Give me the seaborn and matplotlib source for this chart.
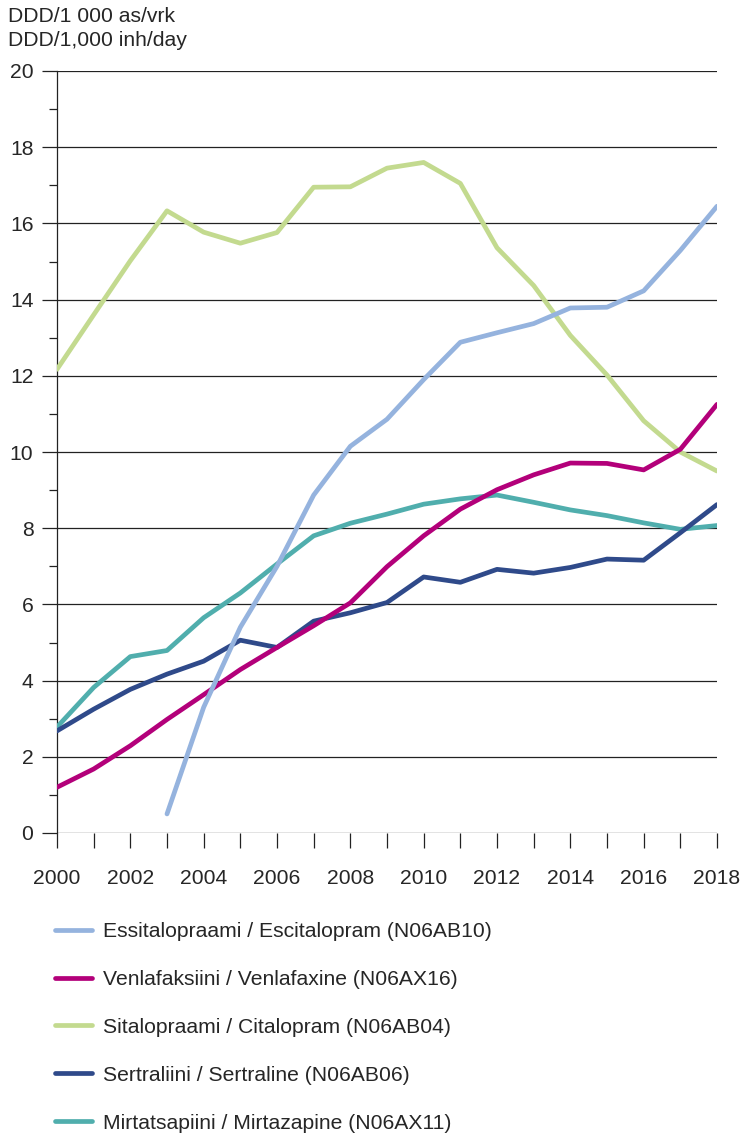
import numpy as np
import pandas as pd
import matplotlib
matplotlib.use("Agg")
import matplotlib.pyplot as plt
import seaborn as sns

# Data (DDD/1,000 inhabitants/day)
years = list(range(2000, 2019))
escitalopram = [np.nan, np.nan, np.nan, 0.5, 3.3, 5.4, 7.0, 8.87, 10.15, 10.86, 11.9,
                12.88, 13.13, 13.37, 13.78, 13.8, 14.23, 15.29, 16.45]
venlafaxine = [1.2, 1.68, 2.29, 2.98, 3.63, 4.29, 4.87, 5.44, 6.04, 6.99, 7.8,
               8.5, 9.01, 9.4, 9.71, 9.7, 9.53, 10.07, 11.25]
citalopram = [12.17, 13.6, 15.02, 16.33, 15.77, 15.48, 15.76, 16.95, 16.96, 17.45, 17.6,
              17.05, 15.36, 14.37, 13.06, 12.02, 10.82, 10.0, 9.5]
sertraline = [2.68, 3.25, 3.77, 4.17, 4.51, 5.06, 4.87, 5.56, 5.78, 6.05, 6.72,
              6.58, 6.92, 6.82, 6.97, 7.19, 7.16, 7.88, 8.62]
mirtazapine = [2.78, 3.82, 4.63, 4.79, 5.65, 6.3, 7.06, 7.8, 8.13, 8.37, 8.63,
               8.77, 8.87, 8.68, 8.48, 8.33, 8.14, 7.97, 8.07]

labels = [
    "Essitalopraami / Escitalopram (N06AB10)",
    "Venlafaksiini / Venlafaxine (N06AX16)",
    "Sitalopraami / Citalopram (N06AB04)",
    "Sertraliini / Sertraline (N06AB06)",
    "Mirtatsapiini / Mirtazapine (N06AX11)",
]
colors = ["#95B3DE", "#B3007A", "#C3DA8F", "#2F4A8A", "#50AEAD"]
series = [escitalopram, venlafaxine, citalopram, sertraline, mirtazapine]

df = pd.concat(
    [pd.DataFrame({"year": years, "value": vals, "drug": lab})
     for lab, vals in zip(labels, series)],
    ignore_index=True,
)

sns.set_theme(style="white")
plt.rcParams["font.family"] = ["Liberation Sans", "DejaVu Sans"]
FS = 15.2
LW = 3.4

W, H = 743, 1133
fig = plt.figure(figsize=(W / 100, H / 100), dpi=100)
ax = fig.add_axes([57 / W, 1 - 833 / H, (717 - 57) / W, (833 - 71) / H])

grid_kw = dict(color="#222222", linewidth=0.9)
for v in range(0, 21, 2):
    ax.axhline(v, zorder=1, **grid_kw)

# draw in reverse so the legend's first entries sit on top
sns.lineplot(data=df, x="year", y="value", hue="drug",
             hue_order=labels[::-1], palette=dict(zip(labels, colors)),
             linewidth=LW, ax=ax, legend=False, zorder=3)

ax.set_xlim(2000, 2018)
ax.set_ylim(0, 20)
ax.set_xlabel("")
ax.set_ylabel("")
for side in ["top", "right", "bottom"]:
    ax.spines[side].set_visible(False)
ax.spines["left"].set_color("#222222")
ax.spines["left"].set_linewidth(0.9)

ax.set_xticks(years, minor=True)
ax.set_xticks(years[::2])
ax.set_yticks(range(0, 21, 2))
ax.set_yticks(range(1, 20, 2), minor=True)
ax.tick_params(axis="x", which="both", direction="out", length=11, width=0.9,
               color="#222222", bottom=True, pad=15, labelsize=FS)
ax.tick_params(axis="y", which="major", direction="out", length=11, width=0.9,
               color="#222222", left=True, pad=6, labelsize=FS)
ax.tick_params(axis="y", which="minor", direction="out", length=5.5, width=0.9,
               color="#222222", left=True)
ax.grid(False)

fig.text(8 / W, 1 - 17 / H, "DDD/1 000 as/vrk", fontsize=FS, va="center", ha="left")
fig.text(8 / W, 1 - 41 / H, "DDD/1,000 inh/day", fontsize=FS, va="center", ha="left")

handles = [plt.Line2D([], [], color=c, linewidth=LW) for c in colors]
fig.legend(handles, labels, loc="upper left",
           bbox_to_anchor=(55 / W, 1 - 922 / H), frameon=False, fontsize=FS,
           handlelength=1.74, handletextpad=0.52, labelspacing=1.37,
           borderpad=0, borderaxespad=0)

fig.savefig("out.png", dpi=100)
